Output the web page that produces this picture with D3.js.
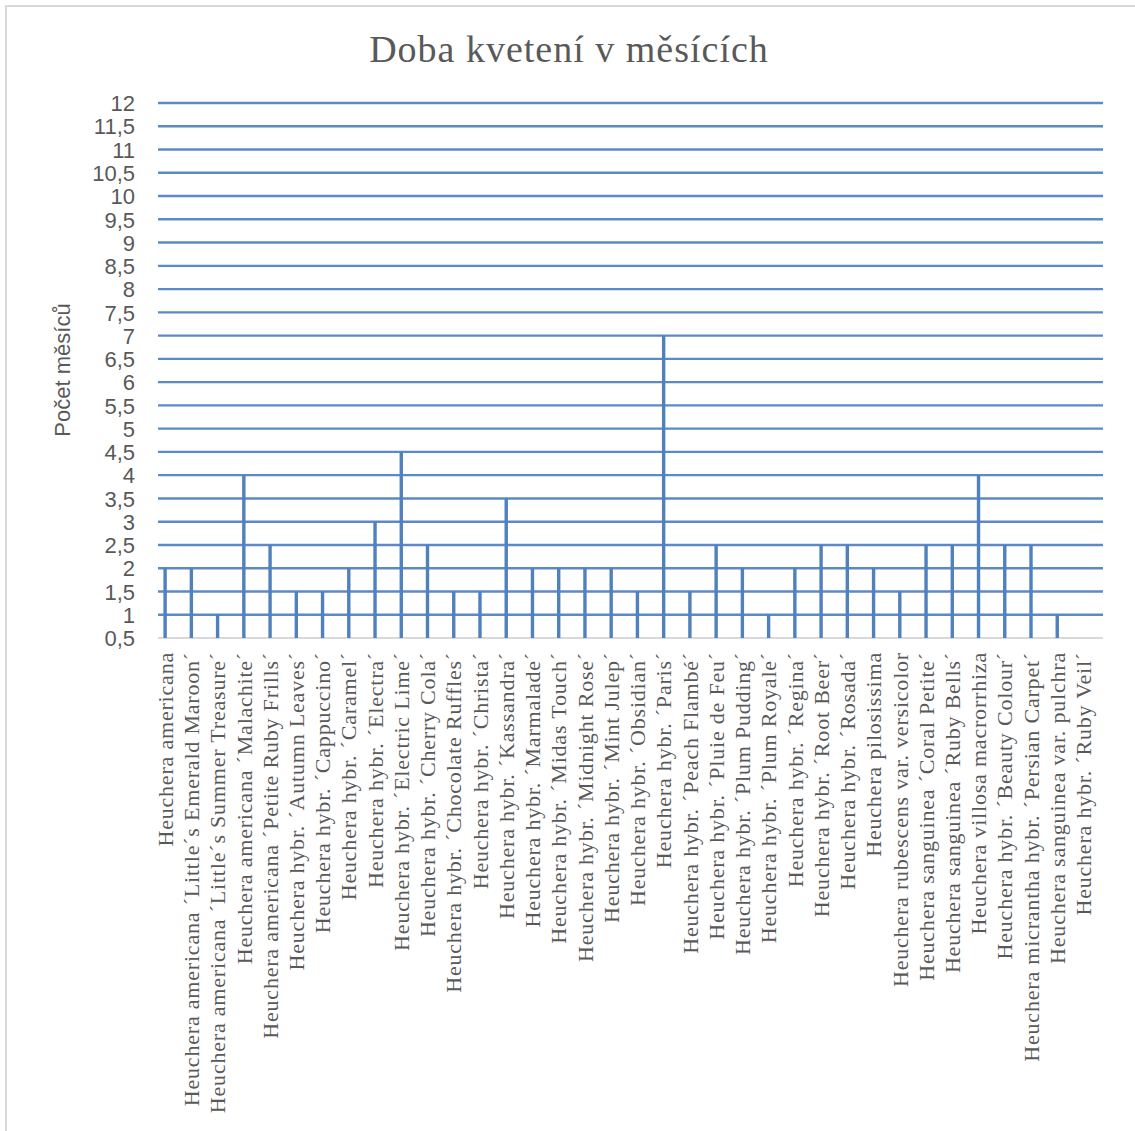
<!DOCTYPE html>
<html><head><meta charset="utf-8">
<script src="https://cdn.jsdelivr.net/npm/d3@7"></script>
<style>html,body{margin:0;padding:0;background:#fff;}</style>
</head><body>
<svg id="c" width="1135" height="1131"></svg>
<script>
const categories = [
  "Heuchera americana",
  "Heuchera americana ´Little´s Emerald Maroon´",
  "Heuchera americana ´Little´s Summer Treasure´",
  "Heuchera americana ´Malachite´",
  "Heuchera americana ´Petite Ruby Frills´",
  "Heuchera hybr. ´Autumn Leaves´",
  "Heuchera hybr. ´Cappuccino´",
  "Heuchera hybr. ´Caramel´",
  "Heuchera hybr. ´Electra´",
  "Heuchera hybr. ´Electric Lime´",
  "Heuchera hybr. ´Cherry Cola´",
  "Heuchera hybr. ´Chocolate Ruffles´",
  "Heuchera hybr. ´Christa´",
  "Heuchera hybr. ´Kassandra´",
  "Heuchera hybr. ´Marmalade´",
  "Heuchera hybr. ´Midas Touch´",
  "Heuchera hybr. ´Midnight Rose´",
  "Heuchera hybr. ´Mint Julep´",
  "Heuchera hybr. ´Obsidian´",
  "Heuchera hybr. ´Paris´",
  "Heuchera hybr. ´Peach Flambé´",
  "Heuchera hybr. ´Pluie de Feu´",
  "Heuchera hybr. ´Plum Pudding´",
  "Heuchera hybr. ´Plum Royale´",
  "Heuchera hybr. ´Regina´",
  "Heuchera hybr. ´Root Beer´",
  "Heuchera hybr. ´Rosada´",
  "Heuchera pilosissima",
  "Heuchera rubescens var. versicolor",
  "Heuchera sanguinea ´Coral Petite´",
  "Heuchera sanguinea ´Ruby Bells´",
  "Heuchera villosa macrorrhiza",
  "Heuchera hybr. ´Beauty Colour´",
  "Heuchera micrantha hybr. ´Persian Carpet´",
  "Heuchera sanguinea var. pulchra",
  "Heuchera hybr. ´Ruby Veil´"
];
const months = [2, 2, 1, 4, 2.5, 1.5, 1.5, 2, 3, 4.5, 2.5, 1.5, 1.5, 3.5, 2, 2, 2, 2, 1.5, 7,
                1.5, 2.5, 2, 1, 2, 2.5, 2.5, 2, 1.5, 2.5, 2.5, 4, 2.5, 2.5, 1, 0.5];
const yTicks = [0.5,1,1.5,2,2.5,3,3.5,4,4.5,5,5.5,6,6.5,7,7.5,8,8.5,9,9.5,10,10.5,11,11.5,12];
const titleText = "Doba kvetení v měsících";
const yAxisTitle = "Počet měsíců";

const svg = d3.select("#c");
// chart border
svg.append("rect").attr("x",6).attr("y",6).attr("width",1140).attr("height",1140)
  .attr("fill","none").attr("stroke","#d9d9d9").attr("stroke-width",2);

const plotL = 158, plotR = 1103, plotT = 103, plotB = 638;
const x = d3.scaleBand().domain(categories).range([152, 1096.6]).paddingInner(0).paddingOuter(0);
const y = d3.scaleLinear().domain([0.5, 12]).range([plotB, plotT]);

// gridlines
svg.append("g").selectAll("line").data(yTicks.filter(t => t > 0.5)).join("line")
  .attr("x1", plotL).attr("x2", plotR)
  .attr("y1", d => y(d)).attr("y2", d => y(d))
  .attr("stroke", "#5b8ac6").attr("stroke-width", 2.4);

// baseline
svg.append("line").attr("x1", plotL).attr("x2", plotR).attr("y1", y(0.5)).attr("y2", y(0.5))
  .attr("stroke", "#d9d9d9").attr("stroke-width", 2);

// bars
svg.append("g").selectAll("rect").data(categories).join("rect")
  .attr("x", (d,i) => x(d) + x.bandwidth()/2 - 1.7)
  .attr("width", 3.4)
  .attr("y", (d,i) => y(months[i]))
  .attr("height", (d,i) => y(0.5) - y(months[i]))
  .attr("fill", "#4f81bd");

// y tick labels
const yAxis = d3.axisLeft(y).tickValues(yTicks).tickSize(0).tickPadding(0)
  .tickFormat(d => String(d).replace(".", ","));
const ga = svg.append("g").attr("transform", "translate(135,0)").call(yAxis);
ga.select(".domain").remove();
ga.selectAll("text").attr("font-family", "Liberation Sans, Arial, sans-serif")
  .attr("font-size", 22).attr("fill", "#595959").attr("dy", "0.35em");

// category labels
svg.append("g").selectAll("text").data(categories).join("text")
  .attr("transform", d => `translate(${x(d) + x.bandwidth()/2}, 652) rotate(-90)`)
  .attr("text-anchor", "end").attr("dy", "0.35em")
  .attr("font-family", "Liberation Serif, Times New Roman, serif")
  .attr("font-size", 22).attr("letter-spacing", 0.8).attr("fill", "#595959")
  .text(d => d);

// title
svg.append("text").attr("x", 569).attr("y", 62).attr("text-anchor", "middle")
  .attr("font-family", "Liberation Serif, Times New Roman, serif")
  .attr("font-size", 38).attr("letter-spacing", 1).attr("fill", "#595959").text(titleText);

// y axis title
svg.append("text").attr("transform", "translate(62,370) rotate(-90)")
  .attr("text-anchor", "middle").attr("dy", "0.35em")
  .attr("font-family", "Liberation Sans, Arial, sans-serif")
  .attr("font-size", 22).attr("fill", "#595959").text(yAxisTitle);
</script>
</body></html>
